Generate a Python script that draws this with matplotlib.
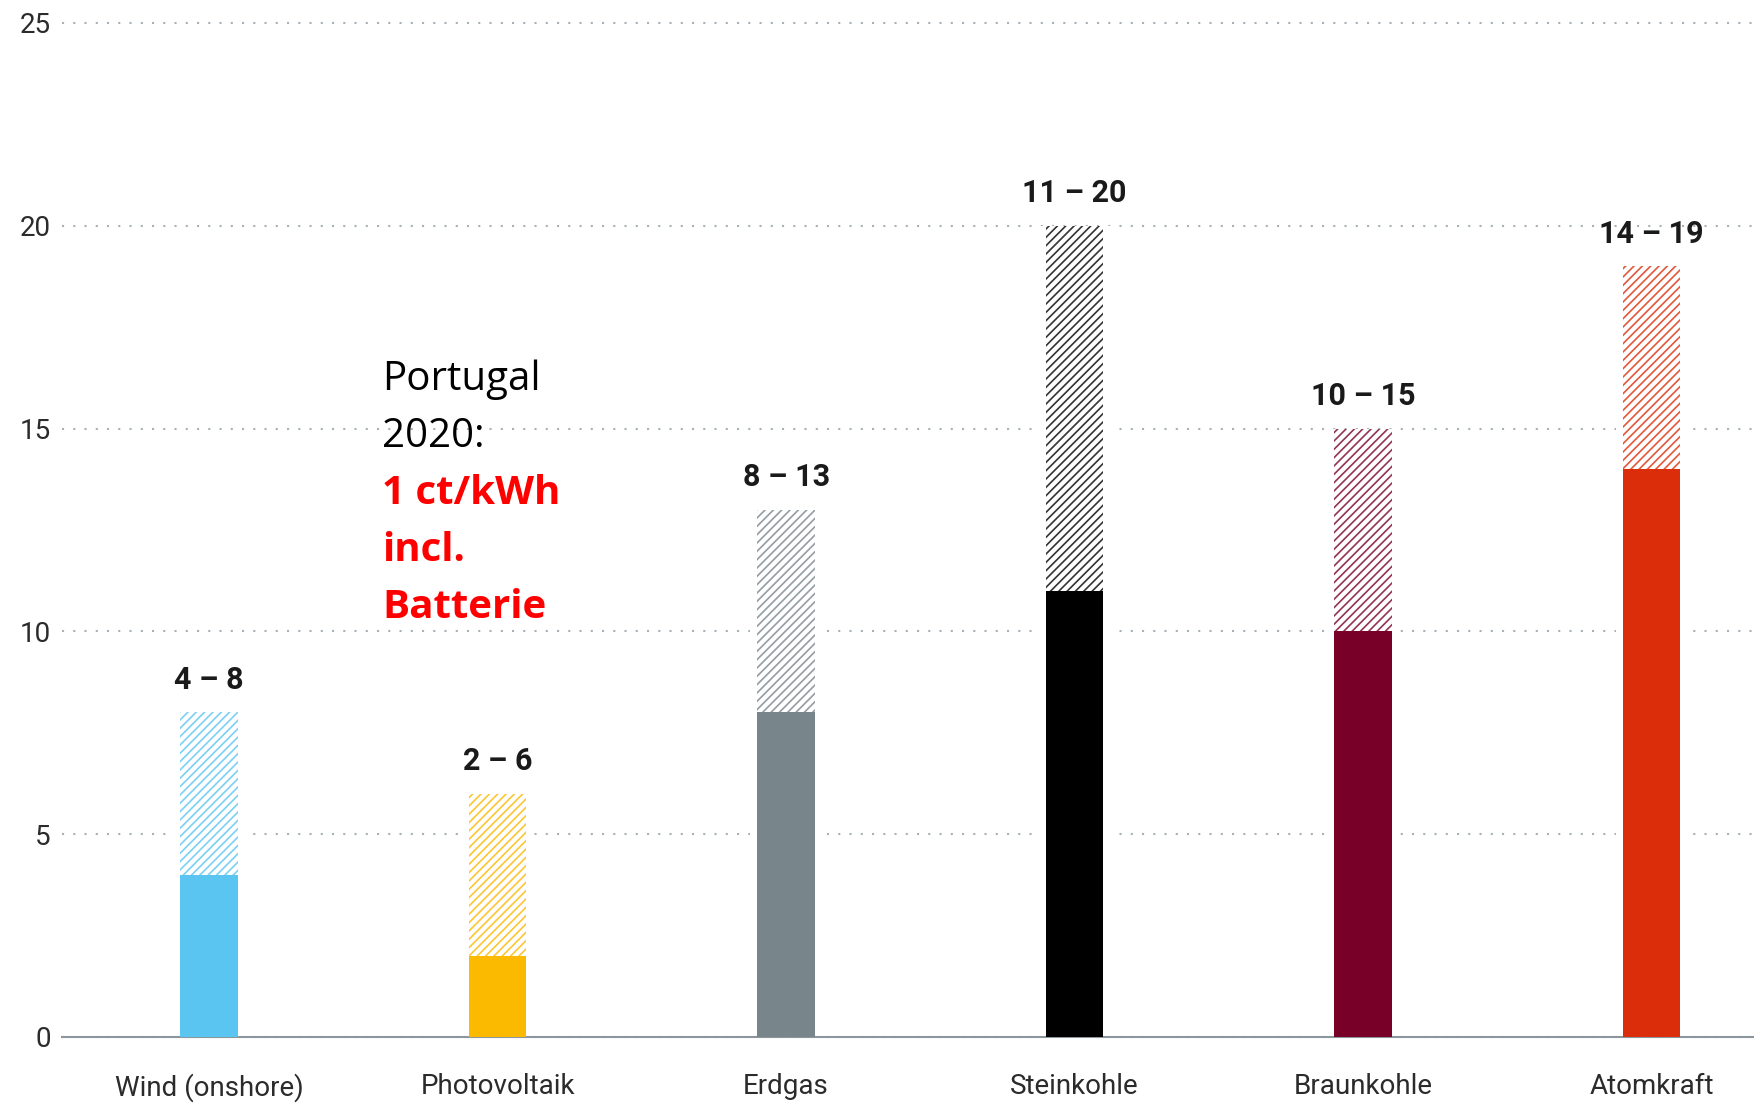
import matplotlib.pyplot as plt
from matplotlib.colors import to_rgba
import numpy as np

# Stromgestehungskosten in ct/kWh (Spanne von .. bis)
categories = ["Wind (onshore)", "Photovoltaik", "Erdgas", "Steinkohle", "Braunkohle", "Atomkraft"]
cost_low = [4, 2, 8, 11, 10, 14]
cost_high = [8, 6, 13, 20, 15, 19]
bar_colors = ["#5BC5F2", "#FBB900", "#78868B", "#000000", "#780028", "#DC2D0A"]
y_ticks = [0, 5, 10, 15, 20, 25]

note_lines = ["Portugal", "2020:", "1 ct/kWh", "incl.", "Batterie"]
note_colors = ["black", "black", "#FF0000", "#FF0000", "#FF0000"]
note_weights = ["normal", "normal", "bold", "bold", "bold"]

plt.rcParams.update({
    "font.family": ["Roboto", "DejaVu Sans"],
    "hatch.linewidth": 1.2,
})

x = np.arange(len(categories))
width = 0.2

fig = plt.figure(figsize=(17.54, 11.04), dpi=100)
ax = fig.add_axes([0.0353, 0.0607, 0.9647, 0.9185])
ax.set_xlim(-0.51, 5.355)
ax.set_ylim(0, 25)

# white backing so the dotted grid stops just short of each bar
ax.bar(x, cost_high, width + 0.05, color="white", zorder=2)

# solid part = lower bound, hatched part = range up to upper bound
ax.bar(x, cost_low, width, color=bar_colors, zorder=3)
for xi, lo, hi, c in zip(x, cost_low, cost_high, bar_colors):
    ax.bar(xi, hi - lo, width, bottom=lo, facecolor="white",
           edgecolor=to_rgba(c, 0.8), hatch="////", linewidth=0, zorder=3)
    ax.annotate(f"{lo} – {hi}", (xi, hi), xytext=(0, 17), textcoords="offset points",
                ha="center", va="baseline", fontsize=22, fontweight="bold", color="#1a1a1a")

# side note next to the PV bar
note_x, note_y, line_step = 0.600, 15.95, 1.405
for i, (txt, col, wt) in enumerate(zip(note_lines, note_colors, note_weights)):
    ax.text(note_x, note_y - i * line_step, txt, color=col, fontweight=wt,
            fontsize=29, family=["Open Sans", "DejaVu Sans"], ha="left", va="baseline", zorder=4)

ax.set_xticks(x)
ax.set_xticklabels(categories)
ax.set_yticks(y_ticks)
ax.tick_params(axis="both", length=0, labelsize=20, colors="#2b2b2b")
ax.tick_params(axis="x", pad=26)
ax.tick_params(axis="y", pad=8)

ax.yaxis.grid(True, linestyle=(0, (1, 4.4)), linewidth=1.5, color="#A7B1B7")
ax.xaxis.grid(False)
ax.set_axisbelow(True)
for line in ax.get_ygridlines():
    line.set_clip_on(False)

for side in ("top", "left", "right"):
    ax.spines[side].set_visible(False)
ax.spines["bottom"].set_color("#8C979D")
ax.spines["bottom"].set_linewidth(1.5)

fig.savefig("out.png", dpi=100)
